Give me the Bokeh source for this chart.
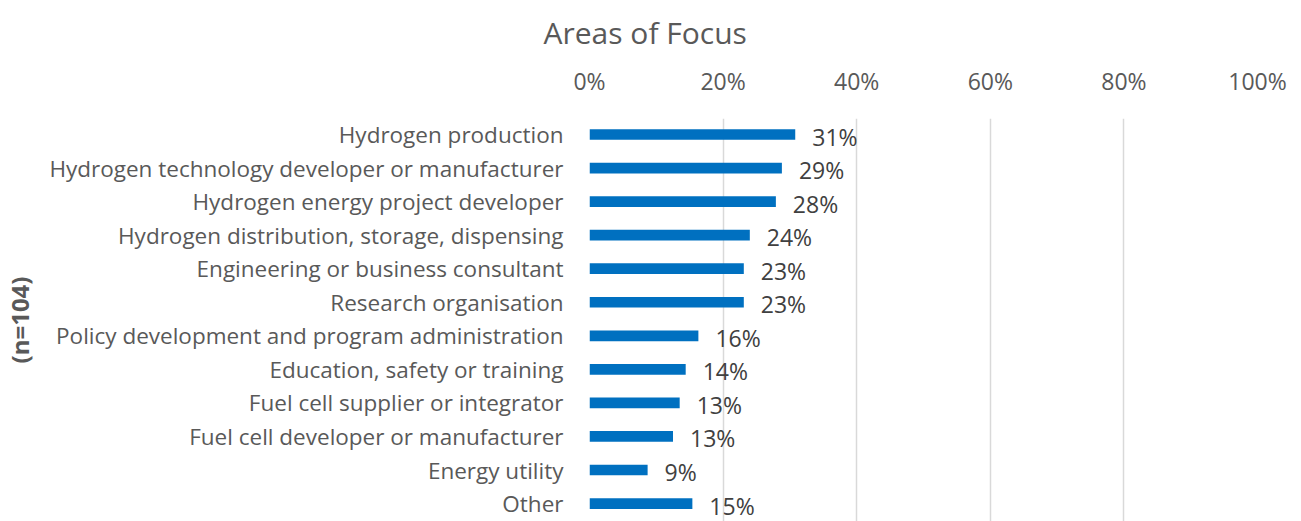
from bokeh.plotting import figure
from bokeh.models import ColumnDataSource, Range1d, FixedTicker, NumeralTickFormatter, Title
from bokeh.embed import file_html
from bokeh.resources import INLINE
from bokeh.core.properties import value

categories = [
    "Hydrogen production",
    "Hydrogen technology developer or manufacturer",
    "Hydrogen energy project developer",
    "Hydrogen distribution, storage, dispensing",
    "Engineering or business consultant",
    "Research organisation",
    "Policy development and program administration",
    "Education, safety or training",
    "Fuel cell supplier or integrator",
    "Fuel cell developer or manufacturer",
    "Energy utility",
    "Other",
]
shares = [0.308, 0.288, 0.279, 0.240, 0.231, 0.231, 0.163, 0.144, 0.135, 0.125, 0.087, 0.154]
share_labels = ["31%", "29%", "28%", "24%", "23%", "23%", "16%", "14%", "13%", "13%", "9%", "15%"]
x_ticks = [0, 0.2, 0.4, 0.6, 0.8, 1.0]
chart_title = "Areas of Focus"

FONT = "Open Sans"
GREY = "#595959"

pos = list(range(len(categories)))
src = ColumnDataSource(dict(pos=pos, share=shares, lab=share_labels))

p = figure(width=1292, height=521, output_backend="svg", toolbar_location=None,
           x_range=Range1d(0, 1.0), y_range=Range1d(11.535, -0.477),
           x_axis_location="above", min_border_left=589, min_border_right=35,
           min_border_top=118, min_border_bottom=0)
p.outline_line_color = None
p.background_fill_color = "white"
p.border_fill_color = "white"

p.hbar(y="pos", left=0, right="share", height=0.32, source=src,
       fill_color="#0070C0", line_color=None)
p.text(x="share", y="pos", text="lab", source=src, x_offset=17, y_offset=2,
       text_align="left", text_baseline="middle", text_font=value(FONT),
       text_font_size="23px", text_color="#404040")

xa = p.xaxis[0]
xa.ticker = FixedTicker(ticks=x_ticks)
xa.formatter = NumeralTickFormatter(format="0%")
xa.axis_line_color = None
xa.major_tick_line_color = None
xa.minor_tick_line_color = None
xa.major_label_text_font = FONT
xa.major_label_text_font_size = "23px"
xa.major_label_text_color = GREY
xa.major_label_standoff = 16

ya = p.yaxis[0]
ya.ticker = FixedTicker(ticks=pos)
ya.major_label_overrides = {i: c for i, c in enumerate(categories)}
ya.axis_line_color = None
ya.major_tick_line_color = None
ya.minor_tick_line_color = None
ya.major_label_text_font = FONT
ya.major_label_text_font_size = "22.5px"
ya.major_label_text_color = GREY
ya.major_label_standoff = 20
ya.axis_label = "(n=104)"
ya.axis_label_text_font = FONT
ya.axis_label_text_font_size = "24px"
ya.axis_label_text_font_style = "bold"
ya.axis_label_text_color = GREY
ya.axis_label_standoff = 10

p.xgrid.ticker = FixedTicker(ticks=x_ticks)
p.xgrid.grid_line_color = "#D9D9D9"
p.xgrid.grid_line_width = 1.5
p.ygrid.grid_line_color = None

t = Title(text=chart_title, align="left", offset=-46, standoff=18, padding=0,
          text_font=FONT, text_font_size="30px", text_font_style="normal",
          text_color=GREY)
p.add_layout(t, "above")

open("out.html", "w").write(file_html(p, INLINE))
